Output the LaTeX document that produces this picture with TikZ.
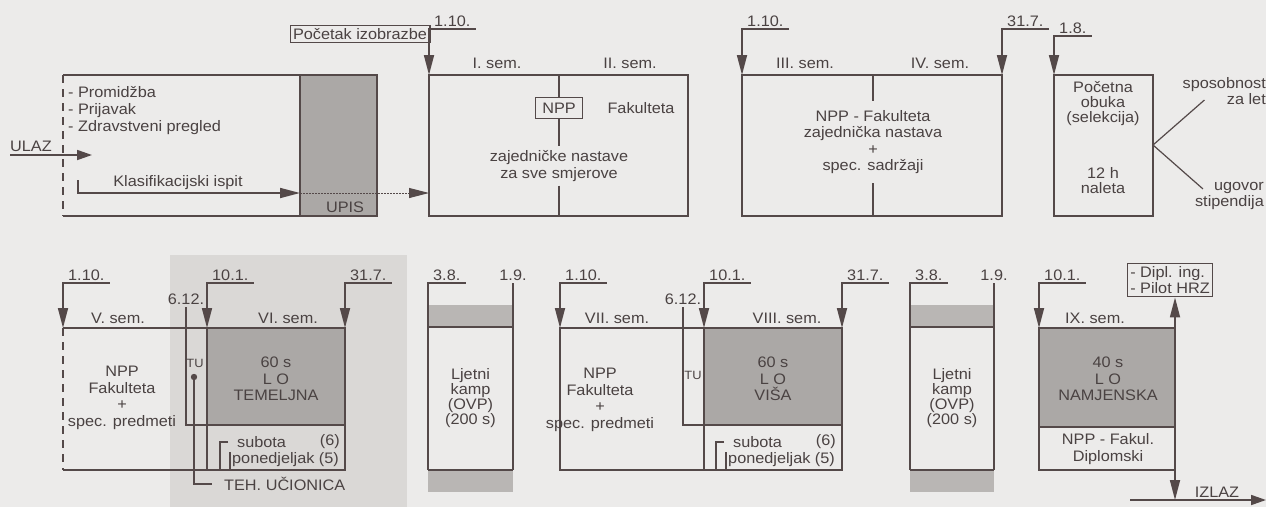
\documentclass[tikz,border=0pt]{standalone}
\usepackage{fontspec}
\usetikzlibrary{arrows.meta,positioning,calc}
\newfontfamily\dgmfont{Liberation Sans}[FakeStretch=1.07]
\definecolor{ink}{HTML}{544949}
\definecolor{inktxt}{HTML}{4A4242}
\definecolor{paper}{HTML}{ECEBEA}
\definecolor{patch}{HTML}{DAD8D6}
\definecolor{lo}{HTML}{ABA8A6}
\definecolor{band}{HTML}{B9B6B4}
\tikzset{
  ln/.style={draw=ink,line width=1.7pt},
  tln/.style={draw=ink,line width=1.2pt},
  ar/.style={-{Triangle[length=20pt,width=10pt]},ln},
  sar/.style={-{Triangle[length=15pt,width=10pt]},ln},
  txt/.style={text=inktxt,font=\dgmfont\fontsize{15.2}{16.5}\selectfont,inner sep=0pt,align=center},
  tight/.style={font=\dgmfont\fontsize{15.2}{15}\selectfont},
  lst/.style={txt,align=left},
  date/.style={txt,inner xsep=5pt,inner ysep=2.5pt},
  lbox/.style={txt,draw=ink,line width=1.2pt,inner xsep=3pt,inner ysep=3pt},
  lofill/.style={fill=lo},
  bandfill/.style={fill=band},
}
\begin{document}
\begin{tikzpicture}[x=1pt,y=-1pt]
  \useasboundingbox (0,0) rectangle (1266,507);
  \fill[paper] (0,0) rectangle (1266,507);
  \fill[patch] (170,255) rectangle (407,507);

  % first year
  \coordinate (pre) at (63,75);
  \coordinate (preb) at (63,216);
  \coordinate (upis1) at (300,75);
  \coordinate (upis2) at (377,216);
  \coordinate (s1) at (429,75);
  \coordinate (s1m) at (559,75);
  \coordinate (s1b) at (688,216);
  \coordinate (s3) at (742,75);
  \coordinate (s3m) at (873,75);
  \coordinate (s4) at (1002,75);
  \coordinate (s3b) at (1002,216);
  \coordinate (po) at (1054,75);
  \coordinate (pob) at (1153,216);

  \draw[ln] (upis1) -- (pre);
  \draw[ln,dash pattern=on 8pt off 6pt] (pre) -- (preb);
  \draw[ln] (preb) -- (upis1|-preb);
  \draw[ln,lofill] (upis1) rectangle (upis2);
  \draw[ln] (s1) rectangle (s1b);
  \draw[ln] (s3) rectangle (s3b);
  \draw[ln] (po) rectangle (pob);

  \foreach \c/\t/\h in {s1/1.10./46, s3/1.10./46, s4/31.7./46, po/1.8./39} {
    \node[date,anchor=south west] (d\c) at ($(\c)+(0,-\h)$) {\t};
    \draw[ar] (d\c.south east) -| (\c);
  }

  \node[lbox] (poc) at (360,34) {Početak izobrazbe};
  \node[lst,anchor=west,font=\dgmfont\fontsize{15.2}{17}\selectfont] (prom) at (68,111) {- Promidžba\\- Prijavak\\- Zdravstveni pregled};
  \coordinate (in0) at (10,155);
  \coordinate (in1) at (92,155);
  \draw[sar] (in0) -- (in1);
  \node[txt,anchor=south west] (ulaz) at (10,152) {ULAZ};
  \coordinate (k0) at (78,180);
  \coordinate (kup) at (300,193);
  \draw[ar] (k0) |- (kup);
  \draw[ar,line width=1pt,dash pattern=on 1.5pt off 1.5pt] (kup) -- (s1|-kup);
  \node[txt] (klas) at (178,183) {Klasifikacijski ispit};
  \node[txt] (upis) at (345,207) {UPIS};

  \node[txt] (sem1) at (497,63) {I. sem.};
  \node[txt] (sem2) at (630,63) {II. sem.};
  \node[txt] (sem3) at (805,63) {III. sem.};
  \node[txt] (sem4) at (940,63) {IV. sem.};
  \node[lbox,minimum width=47pt,minimum height=21pt] (npp) at (559,108) {NPP};
  \node[txt] (fak1) at (641,108) {Fakulteta};
  \node[txt,inner ysep=4pt] (zaj) at (559,166) {zajedničke nastave\\za sve smjerove};
  \draw[ln] (s1m) -- (npp) -- (zaj) -- (s1m|-s1b);
  \node[txt,inner ysep=9pt] (fak3) at (873,142) {NPP - Fakulteta\\zajednička nastava\\+\\spec. sadržaji};
  \draw[ln] (s3m) -- (fak3);
  \draw[ln] (fak3) -- (s3m|-s3b);

  \node[txt,tight] (obuka) at (1103,104) {Početna\\obuka\\(selekcija)};
  \node[txt,tight] (nal) at (1103,181) {12 h\\naleta};
  \coordinate (split) at (1153,145);
  \node[txt,align=right,anchor=east] (spos) at (1266,91) {sposobnost\\za let};
  \node[txt,align=right,anchor=east] (ugov) at (1264,196) {ugovor\\stipendija};
  \draw[tln] (split) -- ([xshift=22pt,yshift=5pt]spos.south west);
  \draw[tln] (split) -- ([xshift=8pt,yshift=-7pt]ugov.north west);

  % second row
  \coordinate (v1) at (63,328);
  \coordinate (v2) at (207,328);
  \coordinate (v3) at (345,328);
  \coordinate (vlo) at (345,425);
  \coordinate (vb) at (345,470);
  \fill[lofill] (v2) rectangle (vlo);
  \draw[ln] (v1|-vb) -- (vb) -- (v3) -- (v1);
  \draw[ln,dash pattern=on 8pt off 6pt] (v1) -- (v1|-vb);
  \draw[ln] (v2) -- (v2|-vb);
  \node[date] (e1) at (186,299) {6.12.};
  \draw[ln] (e1.south) |- (vlo);

  \coordinate (w1) at (560,328);
  \coordinate (w2) at (704,328);
  \coordinate (w3) at (842,328);
  \coordinate (wlo) at (842,425);
  \coordinate (wb) at (842,470);
  \fill[lofill] (w2) rectangle (wlo);
  \draw[ln] (w1) rectangle (wb);
  \draw[ln] (w2) -- (w2|-wb);
  \node[date] (e2) at (683,299) {6.12.};
  \draw[ln] (e2.south) |- (wlo);

  \coordinate (x1) at (1039,328);
  \coordinate (xne) at (1175,328);
  \coordinate (xlo) at (1175,427);
  \coordinate (xse) at (1175,470);
  \fill[lofill] (x1) rectangle (xlo);
  \draw[ln] (x1) rectangle (xse);
  \draw[ln] (x1|-xlo) -- (xlo);

  \foreach \c/\t in {v1/1.10., v2/10.1., v3/31.7., w1/1.10., w2/10.1., w3/31.7., x1/10.1.} {
    \node[date,anchor=south west] (d\c) at ($(\c)+(0,-45)$) {\t};
    \draw[ar] (d\c.south east) -| (\c);
  }

  % summer camps
  \foreach \n/\xa/\xb in {ka/428/513, kb/910/994} {
    \coordinate (\n) at (\xa,327);
    \coordinate (\n e) at (\xb,470);
    \fill[bandfill] (\n) ++(0,-22) rectangle (\n e|-\n);
    \fill[bandfill] (\n|-\n e) rectangle ++(\xb-\xa,22);
    \draw[ln] (\n) -- (\n e|-\n);
    \draw[ln] (\n|-\n e) -- (\n e);
    \node[date,anchor=south west] (d\n) at ($(\n)+(0,-44)$) {3.8.};
    \draw[ln] (d\n.south east) -| (\n|-\n e);
    \node[date] (f\n) at ($(\n e|-\n)+(0,-52)$) {1.9.};
    \draw[ln] (f\n.south) -- (\n e);
    \node[txt,tight] (t\n) at ($(\n)!.5!(\n e)$) {Ljetni\\kamp\\(OVP)\\(200 s)};
  }

  \node[txt] (sem5) at (118,318) {V. sem.};
  \node[txt] (sem6) at (288,318) {VI. sem.};
  \node[txt] (sem7) at (617,318) {VII. sem.};
  \node[txt] (sem8) at (787,318) {VIII. sem.};
  \node[txt] (sem9) at (1095,318) {IX. sem.};
  \node[txt] (npp5) at (122,398) {NPP\\Fakulteta\\+\\spec. predmeti};
  \node[txt] (npp7) at (600,400) {NPP\\Fakulteta\\+\\spec. predmeti};
  \node[txt] (lo6) at (276,379) {60 s\\L O\\TEMELJNA};
  \node[txt] (lo8) at (773,379) {60 s\\L O\\VIŠA};
  \node[txt] (lo9) at (1108,379) {40 s\\L O\\NAMJENSKA};
  \node[txt] (dip9) at (1108,449) {NPP - Fakul.\\Diplomski};
  \node[txt,font=\dgmfont\fontsize{12}{14}\selectfont] (tu6) at (195,363) {TU};
  \node[txt,font=\dgmfont\fontsize{12}{14}\selectfont] (tu8) at (693,375) {TU};

  \coordinate (tud) at (194,377);
  \fill[ink] (tud) circle (3.2pt);
  \node[txt,anchor=west] (teh) at (224,484) {TEH. UČIONICA};
  \draw[tln,shorten >=12pt] (tud) |- (teh.west);

  \foreach \n/\x in {6/220, 8/716} {
    \node[txt,anchor=west] (sub\n) at (\x+17,442) {subota};
    \node[txt,anchor=east] (six\n) at (\x+120,442) {(6)};
    \node[txt,anchor=west] (pon\n) at (\x+12,460) {ponedjeljak (5)};
    \draw[tln] (sub\n.west) ++(-9,0) -| (\x,470);
    \draw[tln] (pon\n.west) ++(-2,-8) -- ++(0,18);
  }

  % exit
  \node[lbox,align=left] (dipl) at (1170,280) {- Dipl. ing.\\- Pilot HRZ};
  \draw[ar] (xne) -- (xne|-dipl.south);
  \coordinate (o0) at (1130,500);
  \coordinate (o1) at (1266,500);
  \draw[sar] (o0) -- (o1);
  \draw[ar] (xse) -- (xse|-o0);
  \node[txt] (izlaz) at (1217,492) {IZLAZ};
\end{tikzpicture}
\end{document}
